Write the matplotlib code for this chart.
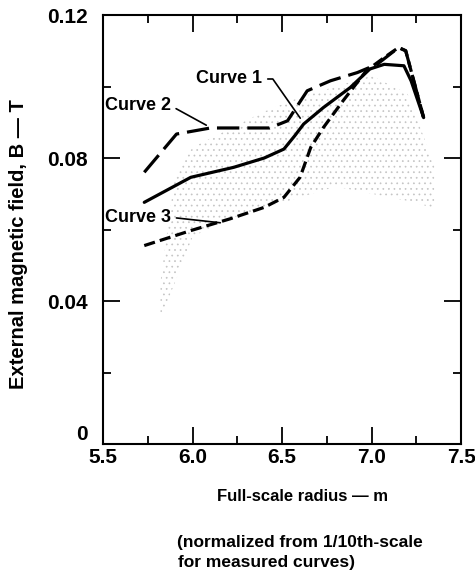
import numpy as np
import matplotlib
matplotlib.use("Agg")
import matplotlib.pyplot as plt

plt.rcParams['font.family'] = ['Liberation Sans', 'DejaVu Sans']
plt.rcParams['font.weight'] = 'bold'
plt.rcParams['axes.labelweight'] = 'bold'

# Curve 1 (solid)
x1 = [5.73, 5.99, 6.23, 6.40, 6.51, 6.57, 6.62, 6.73, 6.88, 6.99, 7.07, 7.18, 7.22, 7.29]
y1 = [0.0676, 0.0746, 0.0774, 0.0800, 0.0825, 0.0862, 0.0895, 0.0941, 0.0997, 0.1049, 0.1062, 0.1058, 0.1016, 0.0913]
# Curve 2 (long dash)
x2 = [5.73, 5.91, 6.10, 6.43, 6.53, 6.64, 6.77, 6.92, 7.03, 7.15, 7.19, 7.29]
y2 = [0.0760, 0.0867, 0.0884, 0.0884, 0.0904, 0.0988, 0.1016, 0.1039, 0.1062, 0.1109, 0.1100, 0.0913]
# Curve 3 (short dash)
x3 = [5.73, 5.99, 6.21, 6.40, 6.51, 6.60, 6.66, 6.73, 6.84, 6.97, 7.07, 7.15, 7.19, 7.29]
y3 = [0.0555, 0.0597, 0.0630, 0.0662, 0.0690, 0.0746, 0.0830, 0.0885, 0.0960, 0.1044, 0.1081, 0.1109, 0.1100, 0.0913]

# stippled band of measured data
band_x = [5.82, 5.90, 6.00, 6.20, 6.40, 6.60, 6.80, 7.00, 7.20, 7.35]
band_hi = [0.045, 0.075, 0.083, 0.088, 0.093, 0.097, 0.100, 0.103, 0.098, 0.078]
band_lo = [0.035, 0.045, 0.058, 0.063, 0.066, 0.069, 0.072, 0.070, 0.068, 0.066]

xticks = [5.5, 6.0, 6.5, 7.0, 7.5]
xticklabels = ['5.5', '6.0', '6.5', '7.0', '7.5']
yticks = [0, 0.04, 0.08, 0.12]
yticklabels = ['0', '0.04', '0.08', '0.12']

fig = plt.figure(figsize=(4.75, 5.77), dpi=100)
ax = fig.add_axes([0.217, 0.2305, 0.754, 0.7435])

plt.rcParams['hatch.color'] = '#c4c4c4'
plt.rcParams['hatch.linewidth'] = 0.5
ax.fill_between(band_x, band_lo, band_hi, facecolor='none', edgecolor='#c4c4c4',
                linewidth=0, hatch='...')

ax.plot(x1, y1, color='k', lw=2.3, solid_capstyle='round')
ax.plot(x2, y2, color='k', lw=2.3, dashes=(7, 2.5))
ax.plot(x3, y3, color='k', lw=2.3, dashes=(3.5, 1.6))

ax.annotate('Curve 1', xy=(6.61, 0.0905), xytext=(6.02, 0.1021), fontsize=13,
            va='center', ha='left',
            arrowprops=dict(arrowstyle='-', color='k', lw=1.2, relpos=(1, 0.5),
                            connectionstyle='angle,angleA=0,angleB=-55,rad=0'))
ax.annotate('Curve 2', xy=(6.09, 0.0888), xytext=(5.51, 0.0946), fontsize=13,
            va='center', ha='left',
            arrowprops=dict(arrowstyle='-', color='k', lw=1.2, relpos=(1, 0.5)))
ax.annotate('Curve 3', xy=(6.17, 0.0618), xytext=(5.51, 0.0634), fontsize=13,
            va='center', ha='left',
            arrowprops=dict(arrowstyle='-', color='k', lw=1.2, relpos=(1, 0.5)))

ax.set_xlim(5.5, 7.5)
ax.set_ylim(0, 0.12)
ax.set_xticks(xticks)
ax.set_xticklabels(xticklabels)
ax.set_yticks(yticks)
ax.set_yticklabels(yticklabels)
ax.set_xticks([5.75, 6.25, 6.75, 7.25], minor=True)
ax.set_yticks([0.02, 0.06, 0.10], minor=True)
ax.tick_params(which='major', direction='in', length=12, width=1.3, labelsize=15,
               top=True, right=True)
ax.tick_params(axis='y', which='major', pad=11)
ax.tick_params(axis='x', which='major', pad=3)
ax.tick_params(which='minor', direction='in', length=6, width=1.3, top=True, right=True)
ax.get_yticklabels()[0].set_va('bottom')
for s in ax.spines.values():
    s.set_linewidth(1.5)

ax.set_xlabel('Full-scale radius \u2014 m', fontsize=12)
ax.xaxis.set_label_coords(0.556, -0.105)
ax.set_ylabel('External magnetic field, B \u2014 T', fontsize=14.5)
ax.yaxis.set_label_coords(-0.21, 0.467)

fig.text(300 / 475, 1 - 543 / 577, '(normalized from 1/10th-scale', fontsize=12.5,
         ha='center', va='center')
fig.text(178 / 475, 1 - 563 / 577, 'for measured curves)', fontsize=12.5,
         ha='left', va='center')

fig.savefig('out.png', dpi=100)
